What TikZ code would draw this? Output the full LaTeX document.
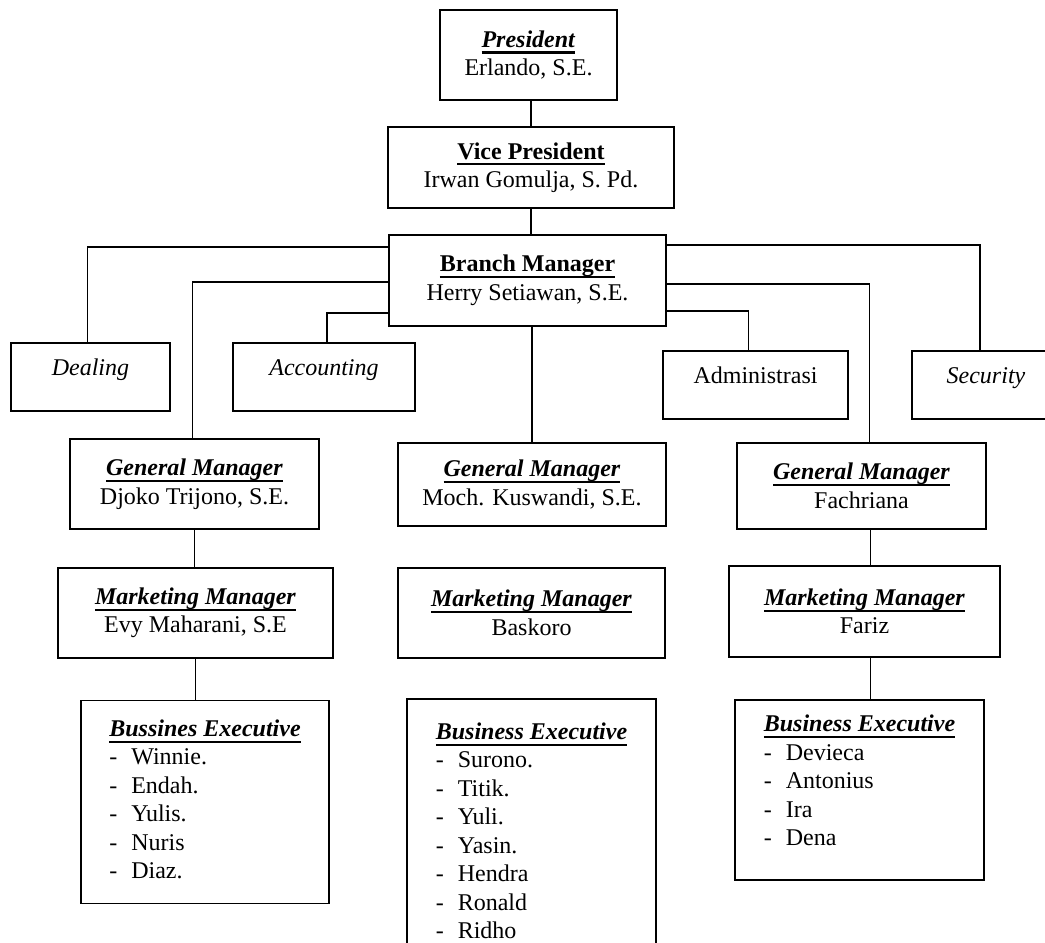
\documentclass[tikz,border=0pt]{standalone}
\usepackage{fontspec}
\setmainfont{Liberation Serif}
\usetikzlibrary{positioning}
\newcommand{\ulhead}[1]{\setbox0\hbox{#1}\rlap{\rule[-3.2pt]{\wd0}{1.1pt}}\box0}
\newcommand{\itm}[1]{-\hspace{7pt}#1}

\begin{document}
\begin{tikzpicture}[x=0.5pt,y=-0.5pt,
    box/.style={draw,line width=0.9pt,inner sep=0pt,outer sep=0pt,align=center,font=\fontsize{12}{14.25}\selectfont},
    single/.style={box,text height=8pt,text depth=10pt},
    listbox/.style={draw,line width=0.9pt,inner sep=0pt,outer sep=0pt,font=\fontsize{12}{14.25}\selectfont},
    line/.style={line width=0.9pt}]
            \useasboundingbox (0,0) rectangle (1045,943);
            \clip (0,0) rectangle (1045,943);
            \node[box,minimum width=88.5pt,minimum height=45pt] (pres) at (528.5,55) {\ulhead{\textbf{\textit{President}}}\\Erlando, S.E.};
            \node[box,minimum width=143pt,minimum height=40.5pt] (vp) at (531,167.5) {\ulhead{\textbf{Vice President}}\\Irwan Gomulja, S. Pd.};
            \node[box,minimum width=138.5pt,minimum height=45.5pt] (bm) at (527.5,280.5) {\ulhead{\textbf{Branch Manager}}\\Herry Setiawan, S.E.};
            \node[single,minimum width=79.5pt,minimum height=34pt] (deal) at (90.5,377) {\textit{Dealing}};
            \node[single,minimum width=91pt,minimum height=34pt] (acct) at (324,377) {\textit{Accounting}};
            \node[single,minimum width=92.5pt,minimum height=34pt] (admin) at (755.5,385) {Administrasi};
            \node[single,minimum width=74pt,minimum height=34pt] (sec) at (986,385) {\textit{Security}};
            \node[box,minimum width=124.5pt,minimum height=45pt] (gma) at (194.5,484) {\ulhead{\textbf{\textit{General Manager}}}\\Djoko Trijono, S.E.};
            \node[box,minimum width=134pt,minimum height=41.5pt] (gmb) at (532,484.5) {\ulhead{\textbf{\textit{General Manager}}}\\Moch. Kuswandi, S.E.};
            \node[box,minimum width=124.5pt,minimum height=43pt] (gmc) at (861.5,486) {\ulhead{\textbf{\textit{General Manager}}}\\Fachriana};
            \node[box,minimum width=137.5pt,minimum height=45pt] (mma) at (195.5,613) {\ulhead{\textbf{\textit{Marketing Manager}}}\\Evy Maharani, S.E};
            \node[box,minimum width=133.5pt,minimum height=45pt] (mmb) at (531.5,613) {\ulhead{\textbf{\textit{Marketing Manager}}}\\Baskoro};
            \node[box,minimum width=135.5pt,minimum height=45.5pt] (mmc) at (864.5,611.5) {\ulhead{\textbf{\textit{Marketing Manager}}}\\Fariz};
            \node[listbox,minimum width=124pt,minimum height=101.5pt] (bea) at (205,802) {\begin{tabular}{@{}l@{}}
                \ulhead{\textbf{\textit{Bussines Executive}}}\\
                \itm{Winnie.}\\ \itm{Endah.}\\ \itm{Yulis.}\\ \itm{Nuris}\\ \itm{Diaz.}
            \end{tabular}};
            \node[listbox,minimum width=124.5pt,minimum height=134.5pt] (beb) at (531.5,833.5) {\begin{tabular}{@{}l@{}}
                \ulhead{\textbf{\textit{Business Executive}}}\\
                \itm{Surono.}\\ \itm{Titik.}\\ \itm{Yuli.}\\ \itm{Yasin.}\\ \itm{Hendra}\\ \itm{Ronald}\\ \itm{Ridho}
            \end{tabular}};
            \node[listbox,minimum width=124.5pt,minimum height=90pt] (bec) at (859.5,790) {\begin{tabular}{@{}l@{}}
                \ulhead{\textbf{\textit{Business Executive}}}\\
                \itm{Devieca}\\ \itm{Antonius}\\ \itm{Ira}\\ \itm{Dena}\\[7pt]
            \end{tabular}};
            \coordinate (gmcs) at ([xshift=4.5pt]gmc.south);
            \coordinate (mmcs) at ([xshift=3pt]mmc.south);
            \draw[line] (vp.north) -- (vp.north |- pres.south);
            \draw[line] (vp.south) -- (vp.south |- bm.north);
            \draw[line] (gmb.north) -- (gmb.north |- bm.south);
            \draw[line] ([yshift=-6pt]bm.north west) -| ([xshift=-1.5pt]deal.north);
            \draw[line] ([yshift=-23.5pt]bm.north west) -| ([xshift=-1pt]gma.north);
            \draw[line] ([yshift=-39pt]bm.north west) -| ([xshift=1.5pt]acct.north);
            \draw[line] ([yshift=-5pt]bm.north east) -| ([xshift=-3pt]sec.north);
            \draw[line] ([yshift=-24.5pt]bm.north east) -| ([xshift=4pt]gmc.north);
            \draw[line] ([yshift=-38pt]bm.north east) -| ([xshift=-3.5pt]admin.north);
            \draw[line] (gma.south) -- (gma.south |- mma.north);
            \draw[line] (mma.south) -- (mma.south |- bea.north);
            \draw[line] (gmcs) -- (gmcs |- mmc.north);
            \draw[line] (mmcs) -- (mmcs |- bec.north);
\end{tikzpicture}
\end{document}
